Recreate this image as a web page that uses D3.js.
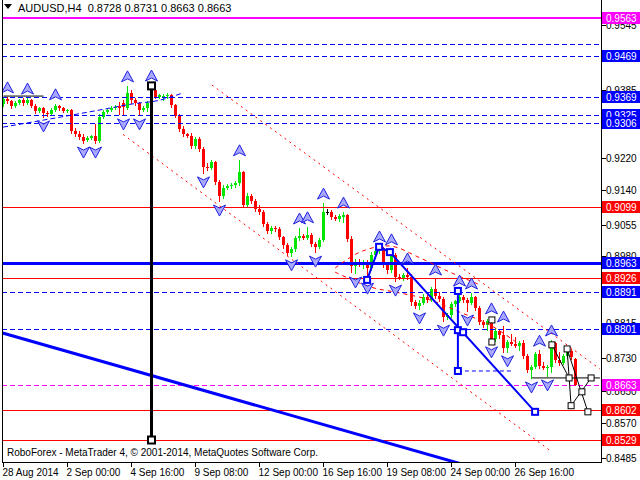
<!DOCTYPE html>
<html><head><meta charset="utf-8">
<script src="https://cdn.jsdelivr.net/npm/d3@7"></script>
<style>body{margin:0;background:#fff}svg{display:block}text{font-family:"Liberation Sans",Arial,sans-serif}</style>
</head><body><svg id="c" width="640" height="480"></svg>
<script>
// ---- data (AUDUSD H4) ----
const opens=[
.9352,.9364,.9359,.9347,.9354,.9361,.9354,.9361,.9347,.9334,
.9342,.9330,.9327,.9337,.9347,.9342,.9334,.9337,.9286,.9278,
.9271,.9263,.9268,.9273,.9261,.9320,.9332,.9337,.9342,.9347,
.9354,.9342,.9379,.9361,.9354,.9337,.9342,.9354,.9386,.9369,
.9369,.9371,.9374,.9349,.9322,.9290,.9278,.9273,.9249,.9266,
.9241,.9197,.9195,.9210,.9161,.9126,.9146,.9151,.9153,.9158,
.9185,.9104,.9126,.9114,.9095,.9087,.9058,.9041,.9048,.9046,
.9026,.9006,.8987,.8997,.9024,.9029,.9024,.9031,.9009,.9002,
.9019,.9087,.9087,.9075,.9070,.9075,.9080,.9021,.8955,.8965,
.8960,.8965,.8950,.8982,.8992,.8999,.8957,.8945,.8982,.8928,
.8926,.8933,.8928,.8867,.8857,.8864,.8879,.8872,.8899,.8882,
.8874,.8830,.8835,.8862,.8869,.8879,.8872,.8864,.8879,.8852,
.8818,.8811,.8820,.8776,.8796,.8786,.8754,.8769,.8764,.8759,
.8767,.8735,.8700,.8708,.8740,.8710,.8705,.8708,.8767,.8725,
.8718,.8735,.8747,.8728];
const highs=[
.9369,.9369,.9361,.9359,.9364,.9366,.9366,.9364,.9352,.9344,
.9344,.9334,.9342,.9352,.9349,.9344,.9339,.9339,.9293,.9286,
.9278,.9273,.9276,.9303,.9327,.9337,.9342,.9347,.9349,.9357,
.9361,.9396,.9386,.9366,.9357,.9347,.9359,.9398,.9388,.9376,
.9376,.9379,.9376,.9352,.9327,.9298,.9281,.9281,.9271,.9271,
.9246,.9207,.9215,.9212,.9166,.9153,.9156,.9158,.9163,.9215,
.9188,.9134,.9131,.9119,.9104,.9092,.9063,.9053,.9053,.9051,
.9029,.9011,.9002,.9029,.9048,.9033,.9051,.9036,.9014,.9024,
.9109,.9095,.9092,.9080,.9082,.9087,.9082,.9029,.8972,.8972,
.8970,.8970,.8989,.8997,.9004,.9002,.8965,.8997,.8987,.8935,
.8938,.8950,.8935,.8872,.8872,.8887,.8887,.8904,.8923,.8891,
.8879,.8840,.8867,.8872,.8896,.8884,.8877,.8889,.8882,.8857,
.8823,.8825,.8828,.8803,.8801,.8808,.8774,.8789,.8781,.8771,
.8774,.8740,.8713,.8745,.8749,.8720,.8713,.8774,.8769,.8745,
.8740,.8752,.8752,.8731];
const lows=[
.9347,.9354,.9342,.9344,.9352,.9349,.9352,.9344,.9330,.9332,
.9320,.9322,.9325,.9334,.9337,.9332,.9332,.9281,.9273,.9266,
.9256,.9261,.9266,.9256,.9259,.9317,.9330,.9334,.9339,.9327,
.9325,.9339,.9354,.9349,.9325,.9334,.9334,.9352,.9366,.9366,
.9361,.9366,.9344,.9320,.9286,.9273,.9271,.9244,.9244,.9237,
.9183,.9190,.9192,.9156,.9114,.9122,.9144,.9146,.9148,.9153,
.9100,.9100,.9109,.9090,.9082,.9053,.9036,.9036,.9041,.9021,
.8999,.8982,.8980,.8992,.9019,.9021,.9021,.9004,.8989,.8999,
.9016,.9082,.9070,.9068,.9065,.9063,.9016,.8940,.8938,.8955,
.8950,.8923,.8945,.8977,.8987,.8953,.8938,.8940,.8918,.8923,
.8921,.8923,.8860,.8852,.8850,.8862,.8867,.8869,.8877,.8869,
.8820,.8825,.8830,.8857,.8867,.8867,.8845,.8862,.8847,.8813,
.8806,.8798,.8767,.8771,.8779,.8745,.8745,.8762,.8757,.8749,
.8730,.8696,.8681,.8705,.8705,.8703,.8686,.8696,.8720,.8713,
.8715,.8730,.8727,.8663];
const closes=[
.9364,.9359,.9347,.9354,.9361,.9354,.9361,.9347,.9334,.9342,
.9330,.9327,.9337,.9347,.9342,.9334,.9337,.9286,.9278,.9271,
.9261,.9268,.9273,.9261,.9320,.9332,.9337,.9342,.9344,.9342,
.9344,.9379,.9361,.9354,.9337,.9342,.9354,.9386,.9369,.9374,
.9371,.9374,.9349,.9322,.9290,.9278,.9273,.9249,.9266,.9241,
.9197,.9195,.9210,.9161,.9126,.9146,.9151,.9153,.9158,.9185,
.9104,.9126,.9114,.9095,.9087,.9058,.9041,.9048,.9046,.9026,
.9006,.8987,.8997,.9024,.9029,.9024,.9031,.9009,.9002,.9019,
.9087,.9087,.9075,.9070,.9077,.9080,.9021,.8955,.8965,.8960,
.8965,.8950,.8982,.8992,.8999,.8957,.8945,.8982,.8928,.8926,
.8933,.8928,.8867,.8857,.8864,.8879,.8872,.8899,.8882,.8874,
.8830,.8835,.8862,.8869,.8879,.8872,.8864,.8879,.8852,.8818,
.8811,.8820,.8776,.8796,.8786,.8754,.8769,.8764,.8759,.8767,
.8735,.8700,.8708,.8740,.8710,.8705,.8708,.8767,.8725,.8718,
.8735,.8747,.8732,.8663];

const timeLabels=["28 Aug 2014","2 Sep 00:00","4 Sep 16:00","9 Sep 08:00","12 Sep 00:00","16 Sep 16:00","19 Sep 08:00","24 Sep 00:00","26 Sep 16:00"];
const timeLabelBars=[0,16,32,48,64,80,96,112,128];
// scale ticks that are not fully covered by level labels
const priceTicks=[0.9545,0.9385,0.9220,0.9140,0.9055,0.8980,0.8815,0.8730,0.8650,0.8570,0.8485];

const upFractals=[1,6,13,31,37,59,74,76,80,85,94,97,101,108,114,117,122,125,134,137];
const downFractals=[10,20,23,30,34,50,54,72,78,88,91,98,104,110,116,122,126,132,136];

// horizontal levels
const levelPrices=[0.9563,0.9499,0.9469,0.9369,0.9325,0.9306,0.9099,0.8963,0.8926,0.8891,0.8801,0.8663,0.8602,0.8529];
const levelKinds=["magenta","blueDash","blueDash","blueDash","blueDash","blueDash","red","blueThick","red","blueDash","blueDash","magentaDash","red","red"];
const levelLabelled=[true,false,true,true,true,true,true,true,true,true,true,true,true,true];

// drawn objects: [bar index, price]
const blueTrend=[[-1,0.8793],[115,0.8469]];
const vLine=[[37,0.9396],[37,0.8529]];
const blackSeg=[[0,0.9371],[10,0.9371]];
const blueCurve=[[-0.1,0.9295],[11.6,0.9315],[24.1,0.9337],[32.4,0.9352],[39.1,0.9361],[44.9,0.9379]];
const channelUpper=[[52.1,0.9398],[149.1,0.8703]];
const channelLower=[[29.9,0.9277],[137.1,0.8500]];
const arcUpper=[[82.9,0.8950],[89.1,0.8989],[96.6,0.9004],[104.1,0.8975],[111.6,0.8940],[119.1,0.8909]];
const arcLower=[[82.9,0.8940],[91.6,0.8904],[99.1,0.8889],[106.6,0.8872],[114.1,0.8842],[121.6,0.8811],[129.1,0.8762]];
const waveLine=[[90.9,0.8921],[93.9,0.9002],[96.6,0.8989],[132.9,0.8598]];
const waveV=[[113.6,0.8894],[113.6,0.8698]];
const waveDash=[[113.6,0.8698],[127.1,0.8698]];
const wavePoints=[[90.9,0.8921],[93.9,0.9002],[96.6,0.8989],[113.6,0.8894],[113.6,0.8798],[114.9,0.8793],[113.6,0.8698],[132.9,0.8598]];
const projHoriz=[[132.1,0.8681],[149.1,0.8681]];
const projSegs=[[[137.1,0.8762],[141.4,0.8681]],[[140.9,0.8752],[141.9,0.8613]],[[140.9,0.8752],[146.1,0.8598]],[[141.9,0.8613],[146.9,0.8681]]];
const projPoints=[[122.1,0.8823],[122.1,0.8769],[137.1,0.8762],[140.9,0.8752],[141.4,0.8681],[141.9,0.8613],[144.6,0.8647],[146.1,0.8598],[146.9,0.8681]];

// ---- drawing ----
const svg=d3.select("#c");
const L=2,R=601,B=462;
const x=d3.scaleLinear().domain([0,143]).range([3.5,575.5]);
const y=d3.scaleLinear().domain([0.9545,0.8485]).range([25,458]);
const line=d3.line().x(d=>x(d[0])).y(d=>y(d[1]));
const curve=d3.line().x(d=>x(d[0])).y(d=>y(d[1])).curve(d3.curveCatmullRom);

svg.append("defs").append("clipPath").attr("id","clip")
  .append("rect").attr("x",L+1).attr("y",0).attr("width",R-L-1).attr("height",B);
const g=svg.append("g").attr("clip-path","url(#clip)");

// candles
const bars=d3.range(closes.length).map(i=>({i,o:opens[i],h:highs[i],l:lows[i],c:closes[i]}));
const col=d=>d.c>d.o?"#00e600":(d.c<d.o?"#ff0000":"#000000");
const cg=g.append("g");
cg.selectAll("line").data(bars).join("line")
  .attr("x1",d=>x(d.i)).attr("x2",d=>x(d.i))
  .attr("y1",d=>Math.round(y(d.h))).attr("y2",d=>Math.round(y(d.l))+1)
  .attr("stroke",col).attr("stroke-width",1);
cg.selectAll("rect").data(bars).join("rect")
  .attr("x",d=>x(d.i)-1.5).attr("width",3)
  .attr("y",d=>Math.round(y(Math.max(d.o,d.c))))
  .attr("height",d=>Math.max(1,Math.round(y(Math.min(d.o,d.c)))-Math.round(y(Math.max(d.o,d.c)))))
  .attr("fill",col);

// levels
const kindStyle={
  magenta:{c:"#ff00ff",w:2,d:null},
  magentaDash:{c:"#ff00ff",w:1,d:"5,3"},
  blueDash:{c:"#0000ff",w:1,d:"5,3"},
  blueThick:{c:"#0000ff",w:3,d:null},
  red:{c:"#ff0000",w:1,d:null}
};
levelPrices.forEach((p,k)=>{
  const s=kindStyle[levelKinds[k]];
  const yy=Math.round(y(p))+(s.w%2?0.5:0);
  g.append("line").attr("x1",L).attr("x2",R).attr("y1",yy).attr("y2",yy)
   .attr("stroke",s.c).attr("stroke-width",s.w).attr("stroke-dasharray",s.d);
});

// channel lines
[channelUpper,channelLower].forEach(c=>{
  g.append("path").attr("d",line(c)).attr("stroke","#ff0000").attr("stroke-width",1)
   .attr("stroke-dasharray","2,4").attr("fill","none");
});
// arcs
[arcUpper,arcLower].forEach(c=>{
  g.append("path").attr("d",curve(c)).attr("stroke","#ff0000").attr("stroke-width",1)
   .attr("stroke-dasharray","4,4").attr("fill","none");
});
// blue curve
g.append("path").attr("d",d3.line().x(d=>x(d[0])).y(d=>y(d[1])).curve(d3.curveMonotoneX)(blueCurve))
 .attr("stroke","#0000ff").attr("stroke-dasharray","5,3").attr("fill","none");
// blue trend
g.append("path").attr("d",line(blueTrend)).attr("stroke","#0000ff").attr("stroke-width",3).attr("fill","none");
// black segment
g.append("path").attr("d",line(blackSeg)).attr("stroke","#000").attr("stroke-width",1).attr("fill","none");

// fractals
const upPath="M0,-6 L6,5 L0,2 L-6,5 Z";
const dnPath="M0,6 L6,-5 L0,-2 L-6,-5 Z";
g.selectAll(".fu").data(upFractals).join("path").attr("class","fu")
 .attr("transform",i=>`translate(${x(i)},${y(highs[i])-9})`).attr("d",upPath)
 .attr("fill","#a8a8ff").attr("stroke","#2020e0").attr("stroke-width",1);
g.selectAll(".fd").data(downFractals).join("path").attr("class","fd")
 .attr("transform",i=>`translate(${x(i)},${y(lows[i])+9})`).attr("d",dnPath)
 .attr("fill","#a8a8ff").attr("stroke","#2020e0").attr("stroke-width",1);

// wave objects
g.append("path").attr("d",line(waveLine)).attr("stroke","#0000ff").attr("stroke-width",2).attr("fill","none");
g.append("path").attr("d",line(waveV)).attr("stroke","#0000ff").attr("stroke-width",2).attr("fill","none");
g.append("path").attr("d",line(waveDash)).attr("stroke","#0000ff").attr("stroke-width",1).attr("stroke-dasharray","4,3").attr("fill","none");
g.selectAll(".wp").data(wavePoints).join("rect").attr("class","wp")
 .attr("x",d=>x(d[0])-3).attr("y",d=>y(d[1])-3).attr("width",6).attr("height",6)
 .attr("fill","#fff").attr("stroke","#0000ff").attr("stroke-width",2);

// black vertical
g.append("path").attr("d",line(vLine)).attr("stroke","#000").attr("stroke-width",3).attr("fill","none");
vLine.forEach(d=>g.append("rect").attr("x",x(d[0])-3.5).attr("y",y(d[1])-3.5).attr("width",7).attr("height",7)
  .attr("fill","#fff").attr("stroke","#000").attr("stroke-width",2));

// projections
g.append("path").attr("d",line(projHoriz)).attr("stroke","#000").attr("fill","none");
projSegs.forEach(s=>g.append("path").attr("d",line(s)).attr("stroke","#000").attr("fill","none"));
g.selectAll(".pp").data(projPoints).join("rect").attr("class","pp")
 .attr("x",d=>x(d[0])-3).attr("y",d=>y(d[1])-3).attr("width",6).attr("height",6)
 .attr("fill","#fff").attr("stroke","#000").attr("stroke-width",1);

// frame
svg.append("line").attr("x1",L+0.5).attr("x2",L+0.5).attr("y1",0).attr("y2",B+1).attr("stroke","#000");
svg.append("line").attr("x1",L).attr("x2",R+1).attr("y1",B+0.5).attr("y2",B+0.5).attr("stroke","#000");
svg.append("line").attr("x1",R+0.5).attr("x2",R+0.5).attr("y1",0).attr("y2",B+1).attr("stroke","#000");

// right axis ticks
const ax=svg.append("g");
priceTicks.forEach(p=>{
  const yy=Math.round(y(p))+0.5;
  ax.append("line").attr("x1",R+1).attr("x2",R+5).attr("y1",yy).attr("y2",yy).attr("stroke","#000");
  ax.append("text").attr("x",606).attr("y",yy+3.5).attr("font-size",10).attr("fill","#000").text(p.toFixed(4));
});
// level labels
const labelFill={magenta:"#ff00ff",magentaDash:"#ff00ff",blueDash:"#0000ff",blueThick:"#0000ff",red:"#ff0000"};
levelPrices.forEach((p,k)=>{
  if(!levelLabelled[k])return;
  const yy=Math.round(y(p));
  ax.append("rect").attr("x",602).attr("y",yy-6).attr("width",38).attr("height",12).attr("fill",labelFill[levelKinds[k]]);
  ax.append("text").attr("x",606).attr("y",yy+4).attr("font-size",10).attr("fill","#fff").text(p.toFixed(4));
});

// time axis
timeLabelBars.forEach((b,k)=>{
  const xx=Math.floor(x(b))+0.5;
  ax.append("line").attr("x1",xx).attr("x2",xx).attr("y1",B).attr("y2",B+5).attr("stroke","#000");
  ax.append("text").attr("x",xx-1).attr("y",476).attr("font-size",10).attr("fill","#000").text(timeLabels[k]);
});

// title and copyright
svg.append("path").attr("d","M4,4 L12,4 L8,9 Z").attr("fill","#000");
svg.append("text").attr("x",18).attr("y",12).attr("font-size",11).attr("fill","#000")
  .attr("xml:space","preserve").text("AUDUSD,H4  0.8728 0.8731 0.8663 0.8663");
svg.append("text").attr("x",7).attr("y",456).attr("font-size",10).attr("fill","#000")
  .text("RoboForex - MetaTrader 4, © 2001-2014, MetaQuotes Software Corp.");
</script></body></html>
